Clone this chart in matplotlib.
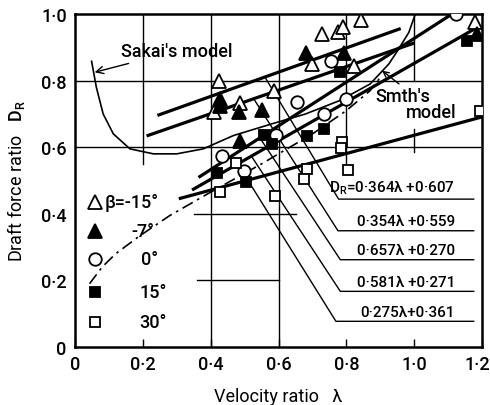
import matplotlib
matplotlib.use("Agg")
import matplotlib.pyplot as plt
import matplotlib.transforms as mtransforms
import numpy as np

plt.rcParams['font.family'] = ['Roboto', 'DejaVu Sans']
plt.rcParams['font.weight'] = 'medium'
plt.rcParams['mathtext.fontset'] = 'custom'
plt.rcParams['mathtext.rm'] = 'Roboto:medium'

# measured points, one pair of lists per blade angle beta
tri_open_x = [0.423, 0.41, 0.485, 0.587, 0.728, 0.775, 0.789, 0.843, 0.70, 0.823, 1.18]
tri_open_y = [0.80, 0.707, 0.733, 0.77, 0.94, 0.945, 0.96, 0.982, 0.85, 0.845, 0.975]
tri_fill_x = [0.426, 0.426, 0.482, 0.551, 0.485, 0.68, 0.792, 1.185]
tri_fill_y = [0.745, 0.725, 0.707, 0.713, 0.62, 0.882, 0.882, 0.94]
circ_x = [1.123, 0.755, 0.80, 0.654, 0.734, 0.592, 0.432, 0.497]
circ_y = [1.0, 0.86, 0.745, 0.735, 0.70, 0.637, 0.575, 0.527]
sq_fill_x = [1.156, 0.782, 0.683, 0.733, 0.556, 0.58, 0.418, 0.504]
sq_fill_y = [0.92, 0.825, 0.635, 0.655, 0.637, 0.61, 0.523, 0.495]
sq_open_x = [1.195, 0.787, 0.785, 0.804, 0.683, 0.674, 0.475, 0.427, 0.59]
sq_open_y = [0.71, 0.615, 0.597, 0.532, 0.535, 0.505, 0.553, 0.466, 0.454]

# regression lines D_R = a*lambda + b
slopes = [0.364, 0.354, 0.657, 0.581, 0.275]
intercepts = [0.607, 0.559, 0.270, 0.271, 0.361]
x_start = [0.243, 0.211, 0.364, 0.345, 0.306]
x_end = [0.96, 1.0, 1.123, 1.18, 1.2]
eq_labels = [r'$\mathrm{D_R}$=0·364λ +0·607', '0·354λ +0·559', '0·657λ +0·270',
             '0·581λ +0·271', '0·275λ+0·361']

# model curves
sakai_x = [0.049, 0.063, 0.083, 0.113, 0.162, 0.231, 0.30, 0.378, 0.467, 0.58, 0.68, 0.78, 0.87, 0.925, 0.954, 0.984, 1.003]
sakai_y = [0.858, 0.78, 0.70, 0.64, 0.595, 0.58, 0.58, 0.595, 0.635, 0.67, 0.70, 0.74, 0.79, 0.85, 0.895, 0.945, 1.0]
smith_x = [0.043, 0.08, 0.12, 0.19, 0.28, 0.4, 0.55, 0.7, 0.8, 0.87, 0.9]
smith_y = [0.19, 0.24, 0.28, 0.333, 0.395, 0.465, 0.55, 0.64, 0.71, 0.77, 0.81]

fig = plt.figure(figsize=(4.9, 4.06), dpi=100)
ax = fig.add_axes([0.153, 0.143, 0.831, 0.820])
ax.set_xlim(0, 1.2)
ax.set_ylim(0, 1.0)

# partial grid as in the original drawing
k = dict(color='black', lw=1.0, zorder=1)
ax.plot([0.2, 0.2], [0.55, 1.0], **k)
ax.plot([0.4, 0.4], [0, 1.0], **k)
ax.plot([0.6, 0.6], [0, 1.0], **k)
ax.plot([0.8, 0.8], [0.52, 1.0], **k)
ax.plot([1.0, 1.0], [0.8, 1.0], **k)
ax.plot([1.0, 1.0], [0.585, 0.655], **k)
ax.plot([0, 1.2], [0.8, 0.8], **k)
ax.plot([0, 1.2], [0.6, 0.6], **k)
ax.plot([0.35, 0.65], [0.4, 0.4], **k)
ax.plot([0.36, 0.6], [0.2, 0.2], **k)

for a, b, x0, x1 in zip(slopes, intercepts, x_start, x_end):
    xx = np.array([x0, x1])
    ax.plot(xx, a * xx + b, color='black', lw=2.3, solid_capstyle='butt', zorder=3)

ax.plot(sakai_x, sakai_y, color='black', lw=1.2, zorder=2)
ax.plot(smith_x, smith_y, color='black', lw=1.2, dashes=(7, 3, 1.5, 3), zorder=2)

mk = dict(linestyle='none', color='black', mec='black', mew=1.3, zorder=5)
ax.plot(tri_open_x, tri_open_y, marker='^', ms=9.5, mfc='white', **mk)
ax.plot(tri_fill_x, tri_fill_y, marker='^', ms=9.5, mfc='black', **mk)
ax.plot(circ_x, circ_y, marker='o', ms=9, mfc='white', **mk)
ax.plot(sq_fill_x, sq_fill_y, marker='s', ms=6.5, mfc='black', **mk)
ax.plot(sq_open_x, sq_open_y, marker='s', ms=6.5, mfc='white', **mk)

# equation labels with leader lines
label_y = [0.444, 0.349, 0.262, 0.167, 0.077]
leader_end = [(0.56, 0.81), (0.527, 0.745), (0.545, 0.628), (0.52, 0.573), (0.51, 0.50)]
label_x0 = [0.777, 0.775, 0.782, 0.782, 0.769]
for lab, ly, (ex, ey), lx in zip(eq_labels, label_y, leader_end, label_x0):
    ax.plot([ex, lx, 1.175], [ey, ly, ly], color='black', lw=1.0, zorder=2)
    ax.text(1.12, ly + 0.008, lab, ha='right', va='bottom', fontsize=11)

# legend drawn inside the plot
leg_y = [0.435, 0.349, 0.264, 0.164, 0.074]
leg_txt = ['β=-15°', '-7°', '0°', '15°', '30°']
leg_tx = [0.088, 0.167, 0.195, 0.19, 0.19]
leg_m = [('^', 'white', 9.5), ('^', 'black', 9.5), ('o', 'white', 9), ('s', 'black', 6.5), ('s', 'white', 6.5)]
for yy, t, tx, (m, fc, s) in zip(leg_y, leg_txt, leg_tx, leg_m):
    ax.plot([0.058], [yy], marker=m, ms=s, mfc=fc, **mk)
    ax.text(tx, yy, t, ha='left', va='center', fontsize=13)

ax.annotate("Sakai's model", xy=(0.058, 0.825), xytext=(0.135, 0.889),
            fontsize=13, va='center',
            arrowprops=dict(arrowstyle='->', color='black', lw=1.0, shrinkA=2, shrinkB=0))
ax.annotate('', xy=(0.905, 0.83), xytext=(0.955, 0.79),
            arrowprops=dict(arrowstyle='->', color='black', lw=1.0, shrinkA=0, shrinkB=0))
ax.text(0.885, 0.755, "Smth's", fontsize=13, va='center')
ax.text(0.975, 0.705, 'model', fontsize=13, va='center')

ax.set_xticks([0, 0.2, 0.4, 0.6, 0.8, 1.0, 1.2])
ax.set_xticklabels(['0', '0·2', '0·4', '0·6', '0·8', '1·0', '1·2'], fontsize=13)
ax.set_yticks([0, 0.2, 0.4, 0.6, 0.8, 1.0])
ax.set_yticklabels(['0', '0·2', '0·4', '0·6', '0·8', '1·0'], fontsize=13)
ax.tick_params(axis='x', direction='in', length=6, width=1.0, pad=6)
ax.tick_params(axis='y', length=0, pad=6)
last = ax.get_xticklabels()[-1]
last.set_transform(last.get_transform() + mtransforms.ScaledTranslation(-5 / 100, 0, fig.dpi_scale_trans))
for s in ax.spines.values():
    s.set_linewidth(1.8)

ax.set_xlabel('Velocity ratio   λ', fontsize=13, labelpad=10)
ax.set_ylabel(r'Draft force ratio   $\mathrm{D_R}$', fontsize=13, labelpad=10)

fig.savefig('out.png', dpi=100)
